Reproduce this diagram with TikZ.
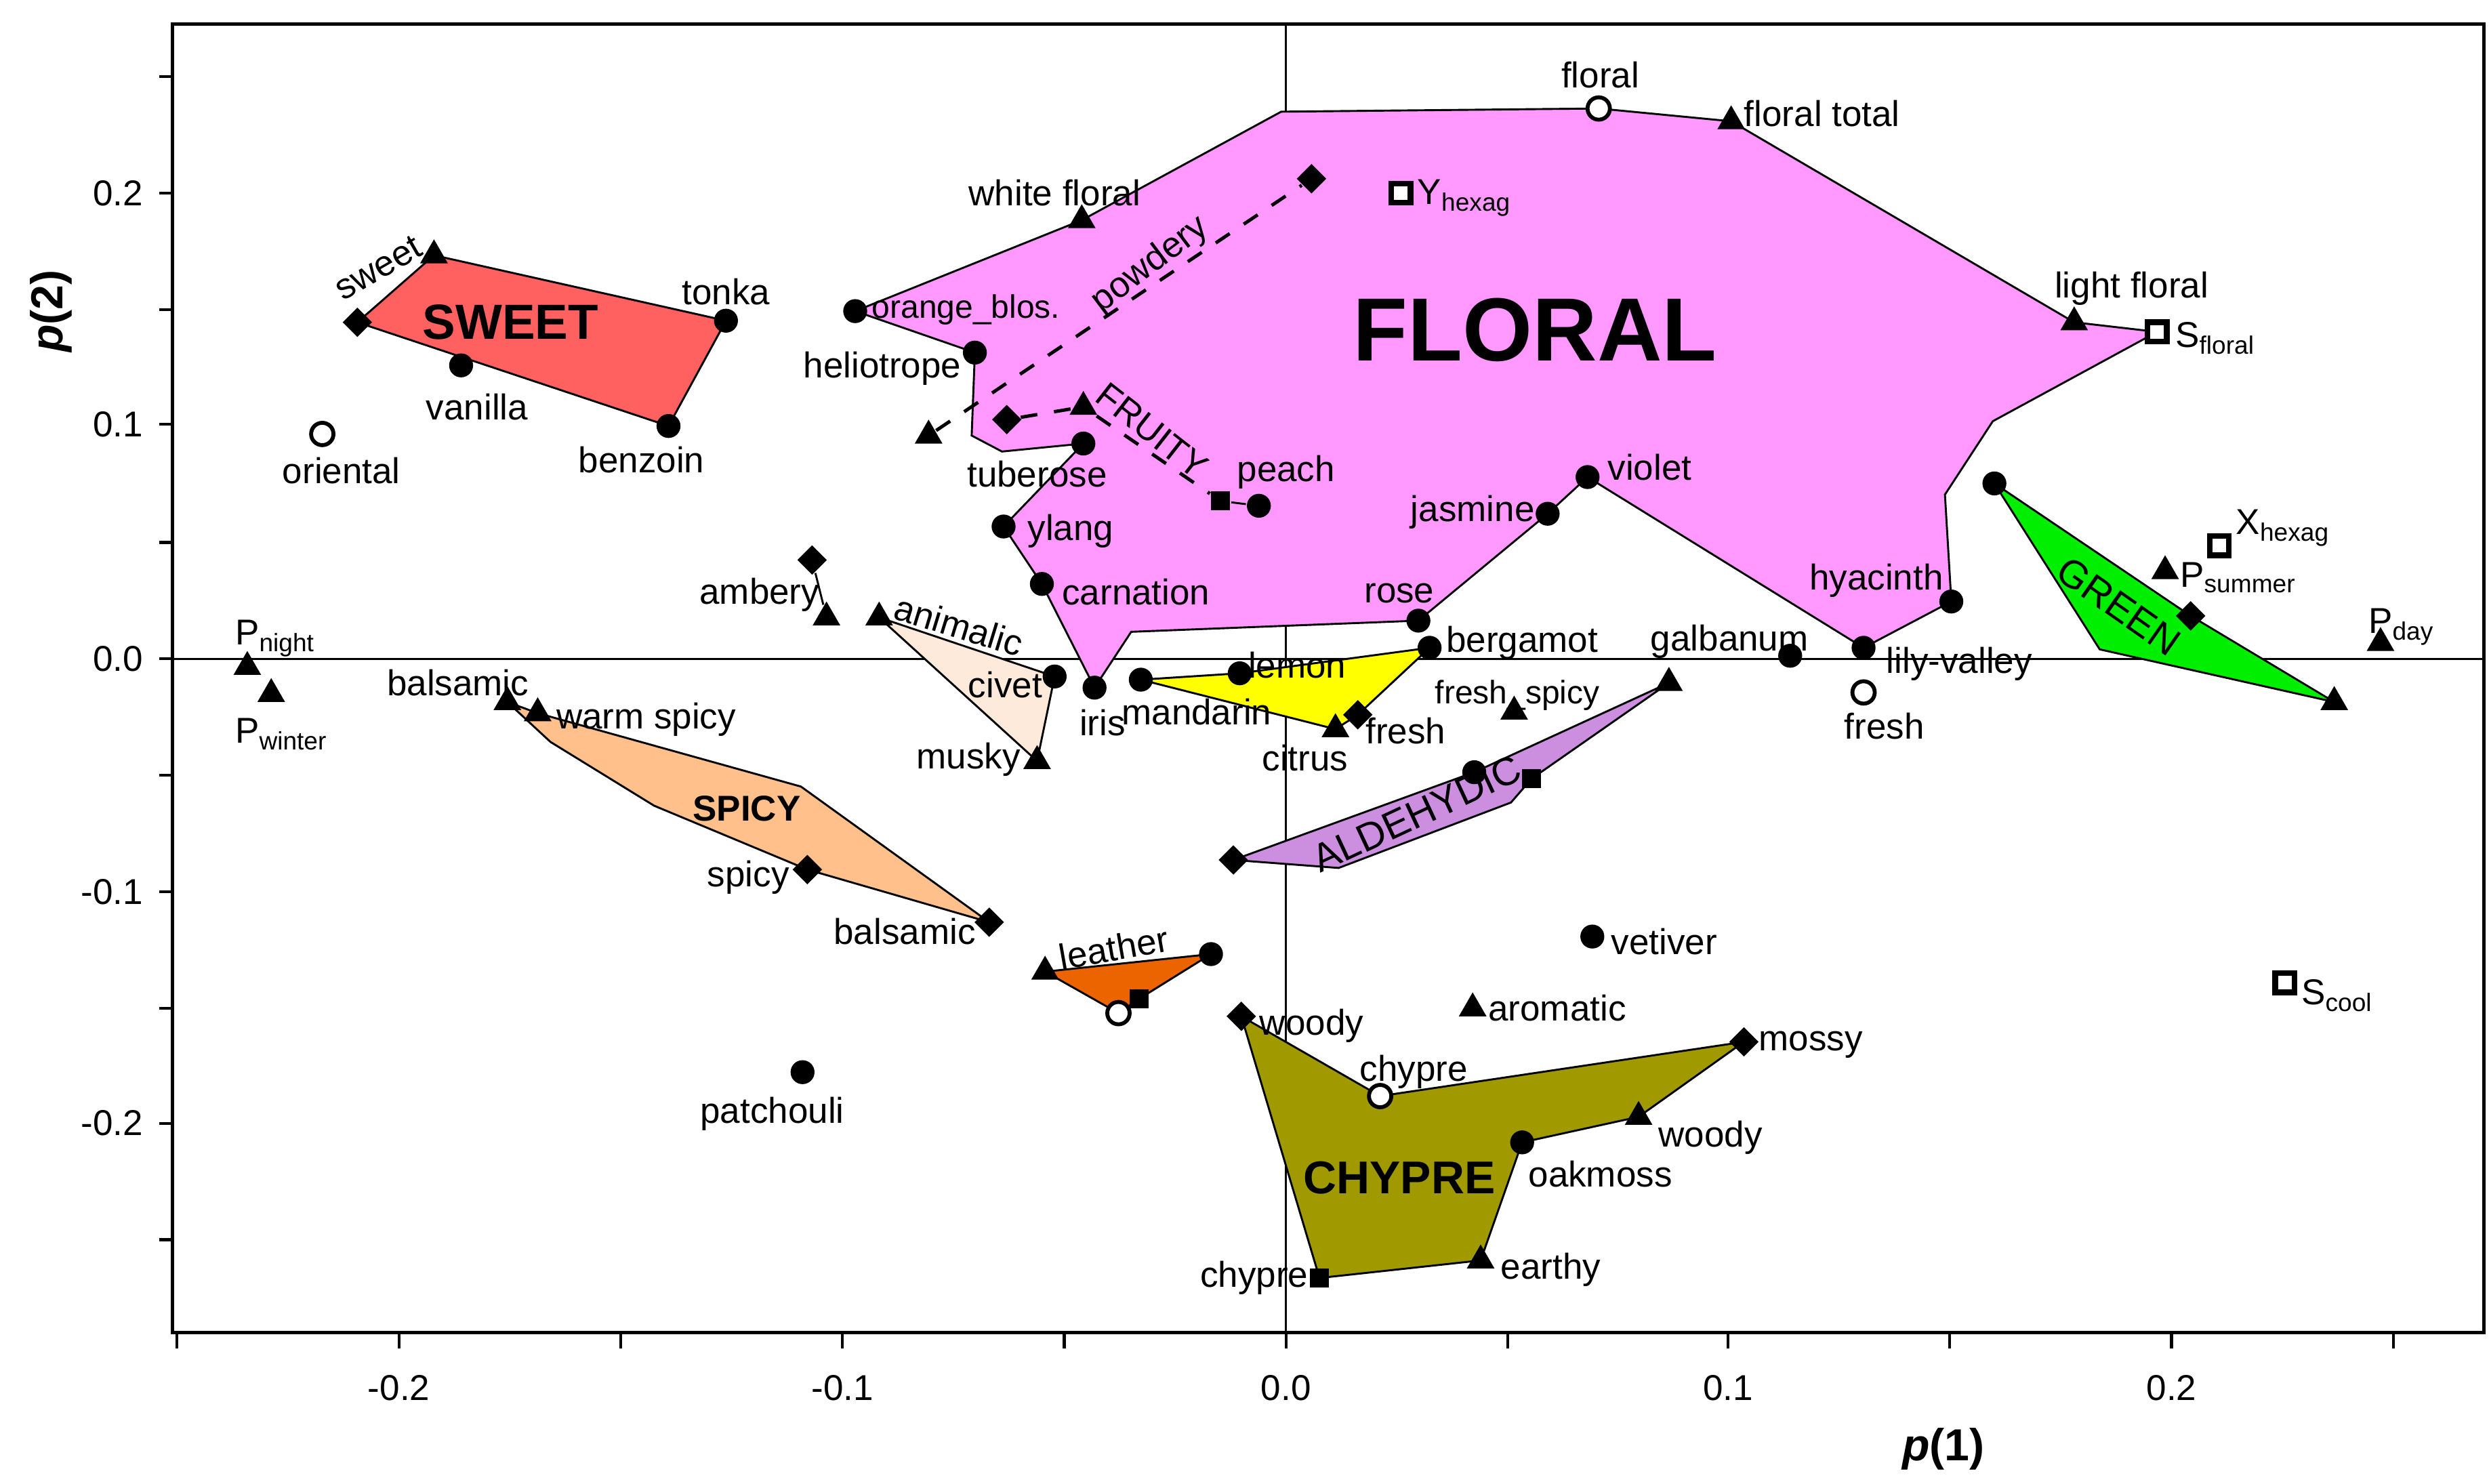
\documentclass[tikz,border=0pt]{standalone}
\usepackage{fontspec}
\setmainfont{Liberation Sans}
\usetikzlibrary{shapes.geometric}
\begin{document}
\begin{tikzpicture}[x=0.01cm,y=-0.01cm,
  dot/.style={circle,fill=black,inner sep=0pt,minimum size=0.15cm},
  ocirc/.style={circle,draw=black,fill=white,line width=0.7pt,inner sep=0pt,minimum size=0.14cm},
  tri/.style={regular polygon,regular polygon sides=3,fill=black,inner sep=0pt,minimum size=0.2cm},
  dia/.style={diamond,fill=black,inner sep=0pt,minimum size=0.19cm},
  sqr/.style={rectangle,fill=black,inner sep=0pt,minimum size=0.12cm},
  osq/.style={rectangle,draw=black,fill=white,line width=1pt,inner sep=0pt,minimum size=0.12cm},
  lab/.style={font=\fontsize{6.4}{7}\selectfont,inner sep=0.5pt},
  big/.style={font=\bfseries\fontsize{#1}{#1}\selectfont,inner sep=0pt},
  edge/.style={line width=0.35pt},
  tick/.style={line width=0.5pt}]
\useasboundingbox (0,0) rectangle (1560,930);
% ---------- coordinates ----------
\coordinate (obl) at (536,195); \coordinate (wfl) at (678,138);
\coordinate (f1) at (803,70); \coordinate (flo) at (1002,68);
\coordinate (flt) at (1085,76); \coordinate (lfl) at (1300,202);
\coordinate (sfl) at (1352,208); \coordinate (f2) at (1249,264);
\coordinate (f3) at (1219,310); \coordinate (hya) at (1223,377);
\coordinate (lil) at (1168,406); \coordinate (vio) at (995,299);
\coordinate (jas) at (970,322); \coordinate (ros) at (889,389);
\coordinate (f4) at (709,396); \coordinate (iri) at (686,431);
\coordinate (car) at (653,366); \coordinate (yla) at (629,330);
\coordinate (tub) at (679,278); \coordinate (f5) at (628,283);
\coordinate (f6) at (609,273); \coordinate (hel) at (611,221);
\coordinate (swd) at (224,202); \coordinate (swt) at (272,160);
\coordinate (ton) at (455,201); \coordinate (ben) at (419,267);
\coordinate (van) at (289,229);
\coordinate (gd) at (1250,303); \coordinate (gdi) at (1373,386);
\coordinate (gt) at (1463,440); \coordinate (g1) at (1316,407);
\coordinate (ant) at (551,387); \coordinate (civ) at (661,424);
\coordinate (mus) at (650,477);
\coordinate (man) at (715,426); \coordinate (lem) at (777,422);
\coordinate (ber) at (896,406); \coordinate (frd) at (851,448);
\coordinate (cit) at (837,457);
\coordinate (ald) at (773,539); \coordinate (ad) at (924,484);
\coordinate (gal) at (1046,428); \coordinate (asq) at (960,488);
\coordinate (a1) at (947,503); \coordinate (a2) at (839,544);
\coordinate (bal1) at (318,440); \coordinate (wsp) at (337,447);
\coordinate (s1) at (345,465); \coordinate (s2) at (410,505);
\coordinate (s3) at (502,493); \coordinate (bal2) at (620,578);
\coordinate (spi) at (506,545);
\coordinate (let) at (655,609); \coordinate (ld) at (759,598);
\coordinate (lsq) at (714,626); \coordinate (lc) at (701,635);
\coordinate (wod) at (778,637); \coordinate (chc) at (865,687);
\coordinate (mos) at (1093,653); \coordinate (wot) at (1027,700);
\coordinate (oak) at (954,716); \coordinate (ear) at (928,790);
\coordinate (chs) at (827,801);
% ---------- axes frame ----------
\draw[line width=0.3pt] (806,15) -- (806,835);
\draw[line width=0.3pt] (108,413) -- (1557,413);
\foreach \y in {48,121,194,266,340,413,486,559,632,704,777} \draw[tick] (100,\y) -- (108,\y);
\foreach \x in {111,250,389,528,667,806,945,1083,1222,1361,1500} \draw[tick] (\x,835) -- (\x,845);
% ---------- polygons ----------
\filldraw[fill={rgb,255:red,255;green,153;blue,255},edge] (obl) -- (wfl) -- (f1) -- (flo) -- (flt) -- (lfl) -- (sfl) -- (f2) -- (f3) -- (hya) -- (lil) -- (vio) -- (jas) -- (ros) -- (f4) -- (iri) -- (car) -- (yla) -- (tub) -- (f5) -- (f6) -- (hel) -- cycle;
\filldraw[fill={rgb,255:red,255;green,96;blue,96},edge] (swd) -- (swt) -- (ton) -- (ben) -- cycle;
\filldraw[fill={rgb,255:red,0;green,238;blue,0},edge] (gd) -- (gdi) -- (gt) -- (g1) -- cycle;
\filldraw[fill={rgb,255:red,253;green,234;blue,218},edge] (ant) -- (civ) -- (mus) -- cycle;
\filldraw[fill={rgb,255:red,255;green,255;blue,0},edge] (man) -- (lem) -- (ber) -- (frd) -- (cit) -- cycle;
\filldraw[fill={rgb,255:red,204;green,143;blue,224},edge] (ald) -- (ad) -- (gal) -- (asq) -- (a1) -- (a2) -- cycle;
\filldraw[fill={rgb,255:red,255;green,192;blue,140},edge] (bal1) -- (wsp) -- (s3) -- (bal2) -- (spi) -- (s2) -- (s1) -- cycle;
\filldraw[fill={rgb,255:red,236;green,100;blue,0},edge] (let) -- (ld) -- (lsq) -- (lc) -- cycle;
\filldraw[fill={rgb,255:red,160;green,154;blue,0},edge] (wod) -- (chc) -- (mos) -- (wot) -- (oak) -- (ear) -- (chs) -- cycle;
% ---------- markers ----------
\foreach \c in {obl,hel,tub,yla,car,iri,ros,jas,vio,hya,lil,ton,ben,van,gd,civ,man,lem,ber,ad,ld,oak} \node[dot] (m\c) at (\c) {};
\foreach \c in {wfl,flt,lfl,swt,gt,ant,mus,cit,gal,bal1,wsp,let,wot,ear} \node[tri] (m\c) at (\c) {};
\foreach \c in {swd,gdi,frd,ald,bal2,spi,wod,mos} \node[dia] (m\c) at (\c) {};
\foreach \c in {asq,lsq,chs} \node[sqr] (m\c) at (\c) {};
\node[ocirc] (mflo) at (flo) {};
\node[ocirc] (mlc) at (lc) {};
\node[ocirc] (mchc) at (chc) {};
\node[osq] (msfl) at (sfl) {};
% free markers
\node[dot] (peach) at (789,317) {};
\node[sqr] (fsq) at (765,314) {};
\node[tri] (ftri) at (679,255) {};
\node[dia] (fdia) at (631,263) {};
\node[tri] (ptri) at (582,273) {};
\node[dia] (pdia) at (822,112) {};
\node[osq] (yhex) at (878,121) {};
\node[ocirc] (orie) at (202,272) {};
\node[dia] (ambd) at (509,351) {};
\node[tri] (ambt) at (518,387) {};
\node[tri] (pnig) at (155,418) {};
\node[tri] (pwin) at (170,435) {};
\node[tri] (fspi) at (949,446) {};
\node[dot] (galb) at (1122,411) {};
\node[ocirc] (fres) at (1168,434) {};
\node[osq] (xhex) at (1391,342) {};
\node[tri] (psum) at (1357,358) {};
\node[tri] (pday) at (1492,403) {};
\node[osq] (scoo) at (1432,616) {};
\node[dot] (veti) at (998,587) {};
\node[tri] (arom) at (923,632) {};
\node[dot] (patc) at (503,672) {};
% connectors
\draw[dashed,line width=0.6pt] (fdia) -- (ftri) -- (fsq);
\draw[edge] (fsq) -- (peach);
\draw[dashed,line width=0.6pt] (ptri) -- (pdia);
\draw[edge] (ambd) -- (ambt);
% ---------- labels ----------
\node[lab,rotate=30] at (237,168) {sweet};
\node[big=8.8] at (320,202) {SWEET};
\node[lab] at (455,183) {tonka};
\node[lab] at (299,255) {vanilla};
\node[lab] at (402,288) {benzoin};
\node[lab] at (214,295) {oriental};
\node[lab,anchor=west,font=\fontsize{5.8}{7}\selectfont] at (544,194) {orange\_blos.};
\node[lab] at (661,121) {white floral};
\node[lab,rotate=37] at (721,166) {powdery};
\node[lab] at (553,231) {heliotrope};
\node[lab,rotate=-38] at (722,270) {FRUITY};
\node[lab] at (650,297) {tuberose};
\node[lab] at (806,296) {peach};
\node[lab] at (671,333) {ylang};
\node[lab] at (712,371) {carnation};
\node[lab] at (476,373) {ambery};
\node[lab,rotate=-17] at (601,392) {animalic};
\node[lab] at (630,429) {civet};
\node[lab] at (691,453) {iris};
\node[lab] at (750,446) {mandarin};
\node[lab] at (813,417) {lemon};
\node[lab] at (818,475) {citrus};
\node[lab] at (881,458) {fresh};
\node[lab] at (877,372) {rose};
\node[lab] at (954,403) {bergamot};
\node[lab] at (923,321) {jasmine};
\node[lab] at (1034,293) {violet};
\node[lab,font=\fontsize{5.8}{7}\selectfont] at (951,436) {fresh\_spicy};
\node[lab] at (1084,402) {galbanum};
\node[lab] at (1176,364) {hyacinth};
\node[lab] at (1228,416) {lily-valley};
\node[lab] at (1181,455) {fresh};
\node[lab] at (1003,47) {floral};
\node[lab] at (1142,71) {floral total};
\node[lab,anchor=west] at (886,124) {Y\textsubscript{hexag}};
\node[big=16] at (962,207) {FLORAL};
\node[lab] at (1336,181) {light floral};
\node[lab,anchor=west] at (1361,212) {S\textsubscript{floral}};
\node[lab,anchor=west] at (1399,331) {X\textsubscript{hexag}};
\node[lab,anchor=west] at (1364,362) {P\textsubscript{summer}};
\node[big=7,font=\fontsize{7}{7}\selectfont,rotate=-35] at (1328,380) {GREEN};
\node[lab,anchor=west] at (1482,393) {P\textsubscript{day}};
\node[lab,anchor=west] at (145,400) {P\textsubscript{night}};
\node[lab,anchor=west] at (145,460) {P\textsubscript{winter}};
\node[lab] at (287,428) {balsamic};
\node[lab] at (405,451) {warm spicy};
\node[big=6.4] at (468,507) {SPICY};
\node[lab] at (469,550) {spicy};
\node[lab] at (567,584) {balsamic};
\node[lab] at (607,476) {musky};
\node[lab,font=\fontsize{7}{7}\selectfont,rotate=25] at (888,510) {ALDEHYDIC};
\node[lab,rotate=10] at (698,594) {leather};
\node[lab] at (1043,590) {vetiver};
\node[lab] at (976,632) {aromatic};
\node[lab] at (822,643) {woody};
\node[lab] at (886,672) {chypre};
\node[lab] at (1135,655) {mossy};
\node[lab] at (1072,713) {woody};
\node[lab] at (1003,736) {oakmoss};
\node[big=8.2] at (877,738) {CHYPRE};
\node[lab] at (972,796) {earthy};
\node[lab] at (786,801) {chypre};
\node[lab] at (484,698) {patchouli};
\node[lab,anchor=west] at (1440,624) {S\textsubscript{cool}};
% axis labels
\foreach \y/\t in {121/0.2,266/0.1,413/0.0,559/-0.1,704/-0.2} \node[lab,anchor=east] at (92,\y) {\t};
\foreach \x/\t in {250/-0.2,528/-0.1,806/0.0,1083/0.1,1361/0.2} \node[lab] at (\x,870) {\t};
\node[font=\bfseries\itshape\fontsize{8}{8}\selectfont,rotate=90] at (32,195) {p\upshape(2)};
\node[font=\bfseries\itshape\fontsize{8}{8}\selectfont] at (1218,908) {p\upshape(1)};
% frame on top
\draw[line width=0.6pt] (108,15) rectangle (1557,835);
\end{tikzpicture}
\end{document}
